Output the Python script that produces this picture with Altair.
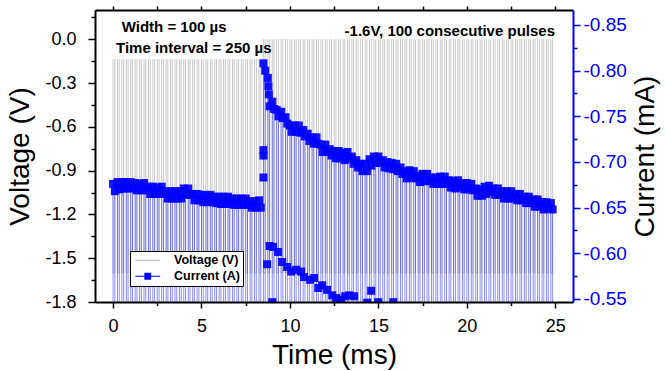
import altair as alt
import pandas as pd

FONT = "Liberation Sans"
BLUE = "#0000ff"
GRAY = "#c8c8c8"

# ---- experiment parameters (from the annotations) ----
n_pulses = 100
pulse_interval_ms = 0.25
pulse_width_ms = 0.1
pulse_voltage = -1.6
idle_voltage = 0.0
idle_current = 0.0

# ---- current read at the start / end of each pulse (mA) ----
current_start = [
    -0.676, -0.678, -0.678, -0.678, -0.678, -0.677, -0.676, -0.677, -0.673, -0.673,
    -0.672, -0.673, -0.668, -0.668, -0.668, -0.668, -0.671, -0.671, -0.665, -0.665,
    -0.664, -0.664, -0.664, -0.662, -0.662, -0.662, -0.662, -0.660, -0.660, -0.660,
    -0.660, -0.657, -0.657, -0.658, -0.808, -0.792, -0.766, -0.757, -0.755, -0.749,
    -0.740, -0.740, -0.740, -0.735, -0.731, -0.727, -0.727, -0.719, -0.719, -0.714,
    -0.712, -0.712, -0.710, -0.711, -0.706, -0.702, -0.698, -0.698, -0.703, -0.706,
    -0.706, -0.702, -0.700, -0.699, -0.698, -0.694, -0.690, -0.691, -0.690, -0.685,
    -0.687, -0.687, -0.683, -0.683, -0.684, -0.684, -0.680, -0.679, -0.680, -0.677,
    -0.677, -0.676, -0.671, -0.670, -0.673, -0.674, -0.671, -0.671, -0.668, -0.668,
    -0.668, -0.665, -0.665, -0.662, -0.662, -0.659, -0.659, -0.656, -0.656, -0.655,
]
current_end = [
    -0.668, -0.670, -0.671, -0.671, -0.671, -0.669, -0.669, -0.669, -0.665, -0.665,
    -0.665, -0.665, -0.660, -0.660, -0.660, -0.660, -0.664, -0.664, -0.658, -0.658,
    -0.656, -0.656, -0.656, -0.655, -0.654, -0.654, -0.654, -0.653, -0.653, -0.653,
    -0.653, -0.650, -0.650, -0.650, -0.800, -0.761, -0.758, -0.750, -0.748, -0.742,
    -0.733, -0.733, -0.732, -0.728, -0.723, -0.720, -0.720, -0.711, -0.711, -0.707,
    -0.704, -0.704, -0.702, -0.704, -0.698, -0.694, -0.690, -0.690, -0.696, -0.699,
    -0.699, -0.694, -0.693, -0.692, -0.690, -0.687, -0.682, -0.683, -0.682, -0.678,
    -0.679, -0.679, -0.676, -0.676, -0.676, -0.676, -0.672, -0.671, -0.672, -0.670,
    -0.670, -0.669, -0.663, -0.663, -0.665, -0.667, -0.664, -0.664, -0.660, -0.660,
    -0.660, -0.658, -0.658, -0.655, -0.655, -0.651, -0.651, -0.648, -0.649, -0.648,
]
# samples inside pulse 35 (ms, mA)
mid_t = [8.78, 8.81]
mid_i = [-0.783, -0.774]
# edge samples (ms, mA)
edge_t = [8.5, 8.5, 8.5, 8.71, 8.85, 9.0, 9.05, 9.33, 9.56, 9.84, 10.07, 10.35, 10.63,
          10.80, 11.14, 11.37, 11.60, 11.82, 12.10, 12.39, 12.61, 12.90, 13.12, 13.35,
          13.63, 14.37, 14.59, 14.99, 15.84]
edge_i = [-0.713, -0.707, -0.683, -0.588, -0.608, -0.5465, -0.607, -0.6015, -0.5905,
          -0.585, -0.580, -0.582, -0.580, -0.574, -0.571, -0.573, -0.562, -0.565,
          -0.560, -0.554, -0.551, -0.549, -0.553, -0.554, -0.553, -0.546, -0.559,
          -0.5465, -0.5465]

legend_names = ["Voltage (V)", "Current (A)"]
x_ticks = [0, 5, 10, 15, 20, 25]
x_minor = [2.5, 7.5, 12.5, 17.5, 22.5]
x_top = [0, 2.5, 5, 7.5, 10, 12.5, 15, 17.5, 20, 22.5, 25]
v_ticks = [-1.8, -1.5, -1.2, -0.9, -0.6, -0.3, 0.0]
v_minor = [-1.65, -1.35, -1.05, -0.75, -0.45, -0.15, 0.15]
c_ticks = [-0.85, -0.80, -0.75, -0.70, -0.65, -0.60, -0.55]
c_minor = [-0.825, -0.775, -0.725, -0.675, -0.625, -0.575]

# ---- tables ----
pulse_starts = [k * pulse_interval_ms for k in range(n_pulses)]

vrows = []
for k, t0 in enumerate(pulse_starts):
    t1 = t0 + pulse_width_ms
    for s, (t, v) in enumerate([(t0, idle_voltage), (t0, pulse_voltage),
                                (t1, pulse_voltage), (t1, idle_voltage)]):
        vrows.append({"t": t, "v": v, "pulse": k, "seq": s})
vdf = pd.DataFrame(vrows)

crows, mrows = [], []
seq = 0
for k, t0 in enumerate(pulse_starts):
    t1 = t0 + pulse_width_ms
    pts = [(t0, idle_current), (t0, current_start[k])]
    mrows.append({"t": t0, "i": current_start[k]})
    for tm, im in zip(mid_t, mid_i):
        if t0 < tm < t1:
            pts.append((tm, im))
            mrows.append({"t": tm, "i": im})
    pts += [(t1, current_end[k]), (t1, idle_current)]
    mrows.append({"t": t1, "i": current_end[k]})
    for t, i in pts:
        crows.append({"t": t, "i": i, "seq": seq})
        seq += 1
for t, i in zip(edge_t, edge_i):
    mrows.append({"t": t, "i": i})
cdf = pd.DataFrame(crows)
mdf = pd.DataFrame(mrows)
ldf = pd.DataFrame({"series": legend_names, "t": [-50.0, -50.0], "i": [-0.7, -0.7]})
one = pd.DataFrame({"k": [0]})

# ---- scales ----
xs = alt.Scale(domain=[-1.02, 26.0], nice=False, zero=False)
vs = alt.Scale(domain=[-1.8, 0.2], nice=False, zero=False)
cs = alt.Scale(domain=[-0.8664, -0.5467], nice=False, zero=False, reverse=True)

base_ax = dict(grid=False, zindex=1, labelFont=FONT, titleFont=FONT,
               titleFontWeight="normal", tickWidth=1.5, domainWidth=2)
minus_fix = "replace(format(datum.value, '{}'), '\u2212', '-')"

ax_x_major = alt.Axis(orient="bottom", values=x_ticks, format="d", tickSize=6,
                      tickColor="black", domainColor="black", labelColor="black",
                      labelFontSize=18, labelPadding=9, title="Time (ms)",
                      titleFontSize=28, titleColor="black", titlePadding=6, **base_ax)
ax_x_minor = alt.Axis(orient="bottom", values=x_minor, tickSize=3.5, labels=False,
                      domain=False, title=None, tickColor="black", **base_ax)
ax_x_top = alt.Axis(orient="top", values=x_top, tickSize=4, labels=False,
                    domainColor="black", tickColor="black", title=None, **base_ax)
ax_v = alt.Axis(orient="left", values=v_ticks, labelExpr=minus_fix.format(".1f"),
                tickSize=7, tickColor="black", domainColor="black", labelColor="black",
                labelFontSize=18, labelPadding=12, title="Voltage (V)", titleFontSize=28,
                titleColor="black", titlePadding=10, **base_ax)
ax_v_minor = alt.Axis(orient="left", values=v_minor, tickSize=4, labels=False,
                      domain=False, title=None, tickColor="black", **base_ax)
ax_c = alt.Axis(orient="right", values=c_ticks, labelExpr=minus_fix.format(".2f"),
                tickSize=7, tickColor=BLUE, domainColor=BLUE, labelColor=BLUE,
                labelFontSize=19, labelPadding=3, title="Current (mA)", titleFontSize=28,
                titleColor="black", titleAngle=-90, titleBaseline="top", titlePadding=5,
                **base_ax)
ax_c_minor = alt.Axis(orient="right", values=c_minor, tickSize=4, labels=False,
                      domain=False, title=None, tickColor=BLUE, **base_ax)

# ---- voltage group ----
volt = alt.Chart(vdf).mark_line(color=GRAY, strokeWidth=1, clip=True).encode(
    x=alt.X("t:Q", scale=xs, axis=ax_x_major),
    y=alt.Y("v:Q", scale=vs, axis=ax_v),
    detail="pulse:N",
    order="seq:Q",
)
minor_v = alt.Chart(one).mark_point(opacity=0).encode(
    x=alt.X("datum_x:Q", scale=xs, axis=ax_x_minor),
    y=alt.Y("datum_y:Q", scale=vs, axis=ax_v_minor),
).transform_calculate(datum_x="0", datum_y="0")
vgroup = alt.layer(volt, minor_v).resolve_axis(x="independent", y="independent")

# ---- current group ----
cline = alt.Chart(cdf).mark_line(color=BLUE, strokeWidth=1, opacity=0.45, clip=True).encode(
    x=alt.X("t:Q", scale=xs, axis=None),
    y=alt.Y("i:Q", scale=cs, axis=ax_c),
    order="seq:Q",
)
box = alt.Chart(one).mark_rect(color="white").encode(
    x=alt.value(5), x2=alt.value(167), y=alt.value(3), y2=alt.value(49)
)
markers = alt.Chart(mdf).mark_point(shape="square", filled=True, size=64, color=BLUE,
                                    opacity=0.92, strokeWidth=0, clip=True).encode(
    x=alt.X("t:Q", scale=xs, axis=ax_x_top),
    y=alt.Y("i:Q", scale=cs, axis=ax_c_minor),
)
path_v = "M-3.1,-0.13H3.1V0.13H-3.1Z"
path_c = "M-3.1,-0.13H3.1V0.13H-3.1Z M-0.85,-0.85H0.85V0.85H-0.85Z"
leg = alt.Legend(title=None, orient="none", legendX=35, legendY=241, fillColor="white",
                 strokeColor="black", padding=3, labelFont=FONT, labelFontWeight="bold",
                 labelFontSize=12.5, labelColor="black", symbolSize=64, symbolOffset=8.5,
                 labelOffset=20, rowPadding=3, symbolStrokeWidth=0, symbolOpacity=1)
legend_pts = alt.Chart(ldf).mark_point(filled=True, clip=True).encode(
    x=alt.X("t:Q", scale=xs, axis=None),
    y=alt.Y("i:Q", scale=cs, axis=None),
    color=alt.Color("series:N", scale=alt.Scale(domain=legend_names, range=["#b4b4b4", BLUE]),
                    legend=leg),
    shape=alt.Shape("series:N", scale=alt.Scale(domain=legend_names, range=[path_v, path_c]),
                    legend=leg),
)

def label(txt, x, y, align="left"):
    return alt.Chart(one).mark_text(text=txt, font=FONT, fontWeight="bold", fontSize=15,
                                    align=align, baseline="alphabetic", color="black").encode(
        x=alt.value(x), y=alt.value(y))

t1 = label("Width = 100 µs", 26.7, 21.7)
t2 = label("Time interval = 250 µs", 21, 43.3)
t3 = label("-1.6V, 100 consecutive pulses", 460, 26, align="right")

cgroup = alt.layer(cline, box, markers, legend_pts, t1, t2, t3).resolve_axis(
    x="independent", y="independent")

chart = alt.layer(vgroup, cgroup).resolve_scale(y="independent").resolve_axis(
    x="independent", y="independent"
).properties(
    width=478, height=292,
    padding={"left": 95, "top": 10, "right": 92, "bottom": 69},
    autosize=alt.AutoSizeParams(type="none"),
).configure_view(stroke=None)

chart.save("out.html", embed_options={"renderer": "svg", "actions": False})
